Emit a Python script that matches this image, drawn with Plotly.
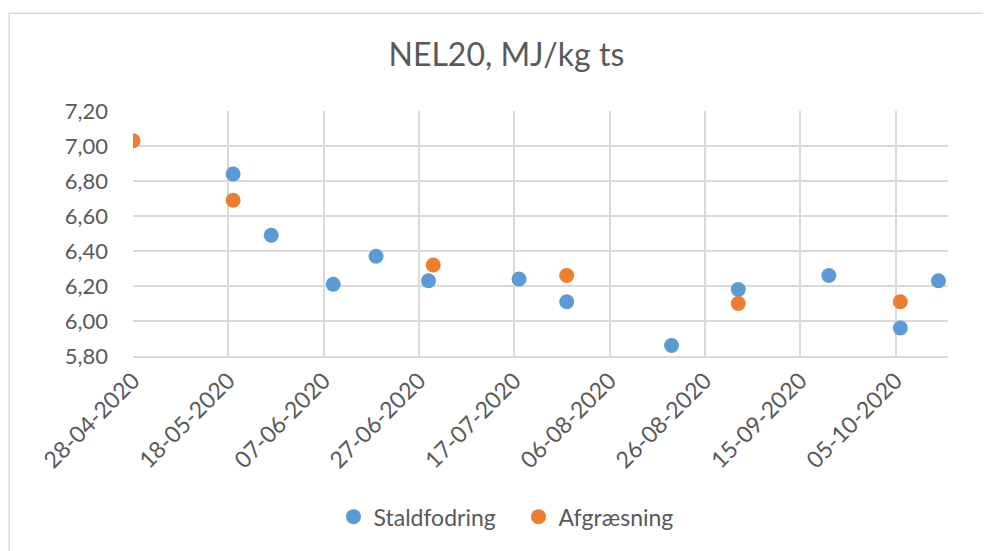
import plotly.graph_objects as go

FONT = "Lato, 'Open Sans', Arial, sans-serif"
GRAY = "#595959"
GRID = "#D9D9D9"

stald_dates = [
    "2020-05-19", "2020-05-27", "2020-06-09", "2020-06-18", "2020-06-29",
    "2020-07-18", "2020-07-28", "2020-08-19", "2020-09-02", "2020-09-21",
    "2020-10-06", "2020-10-14",
]
stald_values = [6.84, 6.49, 6.21, 6.37, 6.23, 6.24, 6.11, 5.86, 6.18, 6.26, 5.96, 6.23]

afgr_dates = ["2020-04-28", "2020-05-19", "2020-06-30", "2020-07-28", "2020-09-02", "2020-10-06"]
afgr_values = [7.03, 6.69, 6.32, 6.26, 6.10, 6.11]

x_ticks = [
    "2020-04-28", "2020-05-18", "2020-06-07", "2020-06-27", "2020-07-17",
    "2020-08-06", "2020-08-26", "2020-09-15", "2020-10-05",
]

fig = go.Figure()
fig.add_trace(go.Scatter(
    x=stald_dates, y=stald_values, mode="markers", name="Staldfodring",
    marker={"color": "#5B9BD5", "size": 15},
))
fig.add_trace(go.Scatter(
    x=afgr_dates, y=afgr_values, mode="markers", name="Afgræsning",
    marker={"color": "#ED7D31", "size": 15},
))

# page body adds an 8px offset, so the figure is 8px smaller than the window
fig.update_layout(
    width=983,
    height=543,
    template="plotly_white",
    paper_bgcolor="white",
    plot_bgcolor="white",
    separators=",.",
    font={"family": FONT, "color": GRAY, "size": 22},
    title={"text": "NEL20, MJ/kg ts", "x": 0.507, "xanchor": "center",
           "y": 0.914, "yanchor": "middle", "font": {"size": 32, "color": GRAY}},
    margin={"l": 125, "r": 43, "t": 103, "b": 193},
    showlegend=True,
    legend={"orientation": "h", "x": 0.473, "xanchor": "center", "y": -0.656,
            "yanchor": "middle", "entrywidth": 140, "font": {"size": 23, "color": GRAY}},
    shapes=[{"type": "rect", "xref": "paper", "yref": "paper",
             "x0": -0.152, "x1": 1.2, "y0": -1.5, "y1": 1.399,
             "line": {"color": "#D9D9D9", "width": 1.5}, "layer": "below"}],
)

fig.update_xaxes(
    type="date", range=["2020-04-28", "2020-10-16"], automargin=False,
    tickvals=x_ticks, tickformat="%d-%m-%Y", tickangle=-45,
    showgrid=True, gridcolor=GRID, gridwidth=1.5,
    showline=True, linecolor=GRID, linewidth=2, zeroline=False,
    ticks="", tickfont={"size": 23, "color": GRAY},
)
fig.update_yaxes(
    range=[5.8, 7.2], dtick=0.2, tickformat=".2f", automargin=False,
    showgrid=True, gridcolor=GRID, gridwidth=1.5,
    showline=False, zeroline=False, ticks="", ticklabelstandoff=24,
    tickfont={"size": 22, "color": GRAY},
)

fig.write_html("out.html")
